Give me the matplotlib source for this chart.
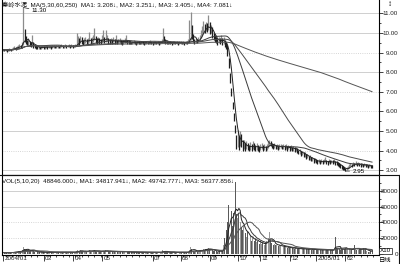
import numpy as np
import pandas as pd
import matplotlib
matplotlib.use('Agg')
import matplotlib.pyplot as plt
import matplotlib.transforms as mtransforms
from matplotlib.lines import Line2D

# daily quotes 2004/01 .. 2005/02
closes = [
    9.15, 9.12, 9.14, 9.10, 9.13, 9.16, 9.14, 9.18, 9.20, 9.25,
    9.22, 9.28, 9.30, 9.35, 9.32, 9.40, 10.05, 9.75, 9.60, 9.50,
    9.55, 9.45, 9.40, 9.60, 9.35, 9.30, 9.28, 9.25, 9.27, 9.24,
    9.26, 9.28, 9.25, 9.27, 9.30, 9.26, 9.28, 9.29, 9.27, 9.30,
    9.31, 9.28, 9.30, 9.32, 9.29, 9.31, 9.33, 9.30, 9.32, 9.34,
    9.31, 9.33, 9.35, 9.32, 9.34, 9.30, 9.33, 9.36, 9.45, 9.60,
    9.55, 9.70, 9.62, 9.50, 9.58, 9.65, 9.55, 9.60, 9.72, 9.58,
    9.62, 9.70, 9.80, 9.65, 9.58, 9.66, 9.60, 9.55, 9.70, 9.75,
    9.62, 9.68, 9.72, 9.60, 9.55, 9.62, 9.58, 9.65, 9.55, 9.60,
    9.52, 9.58, 9.62, 9.55, 9.50, 9.56, 9.60, 9.65, 9.55, 9.52,
    9.50, 9.48, 9.52, 9.55, 9.50, 9.47, 9.52, 9.50, 9.48, 9.53,
    9.50, 9.46, 9.50, 9.52, 9.48, 9.50, 9.53, 9.49, 9.47, 9.50,
    9.52, 9.48, 9.50, 9.47, 9.50, 9.55, 9.80, 9.62, 9.55, 9.50,
    9.48, 9.52, 9.50, 9.47, 9.50, 9.52, 9.48, 9.50, 9.46, 9.50,
    9.52, 9.48, 9.50, 9.47, 9.52, 9.50, 9.55, 9.70, 10.20, 9.90,
    9.65, 9.55, 9.62, 9.58, 9.65, 9.75, 9.95, 10.10, 10.30, 10.20,
    10.35, 10.25, 10.45, 10.15, 10.25, 9.95, 9.80, 9.70, 9.62, 9.55,
    9.65, 9.58, 9.70, 9.55, 9.60, 9.45, 9.35, 9.00, 8.40, 7.60,
    6.90, 6.20, 5.60, 5.00, 4.50, 4.60, 4.30, 4.80, 4.40, 4.20,
    4.35, 4.15, 4.30, 4.20, 4.10, 4.25, 4.15, 4.30, 4.20, 4.10,
    4.22, 4.15, 4.05, 4.18, 4.25, 4.12, 4.20, 4.08, 4.18, 4.30,
    4.40, 4.35, 4.28, 4.20, 4.25, 4.18, 4.22, 4.15, 4.20, 4.24,
    4.18, 4.22, 4.15, 4.20, 4.12, 4.18, 4.10, 4.15, 4.08, 4.12,
    4.05, 4.08, 4.00, 3.92, 3.95, 3.85, 3.88, 3.78, 3.80, 3.70,
    3.72, 3.62, 3.65, 3.55, 3.58, 3.48, 3.52, 3.45, 3.40, 3.45,
    3.42, 3.48, 3.40, 3.45, 3.50, 3.42, 3.38, 3.45, 3.40, 3.44,
    3.40, 3.45, 3.38, 3.35, 3.30, 3.25, 3.20, 3.15, 3.10, 3.05,
    3.00, 3.08, 3.15, 3.22, 3.28, 3.25, 3.32, 3.30, 3.35, 3.28,
    3.32, 3.30, 3.26, 3.30, 3.25, 3.28, 3.22, 3.25, 3.20, 3.22,
    3.18, 3.17,
]
highs = [
    9.20, 9.18, 9.19, 9.16, 9.18, 9.22, 9.20, 9.24, 9.27, 9.32,
    9.30, 9.34, 9.38, 9.45, 9.40, 9.55, 11.30, 10.20, 9.85, 9.65,
    9.70, 9.60, 9.52, 9.90, 9.55, 9.40, 9.36, 9.32, 9.34, 9.30,
    9.32, 9.34, 9.31, 9.33, 9.36, 9.32, 9.34, 9.35, 9.33, 9.37,
    9.38, 9.34, 9.36, 9.40, 9.35, 9.37, 9.42, 9.36, 9.38, 9.41,
    9.37, 9.40, 9.42, 9.38, 9.41, 9.36, 9.40, 9.45, 10.00, 9.85,
    9.72, 9.85, 9.78, 9.65, 9.72, 9.80, 9.70, 9.75, 10.06, 9.75,
    9.78, 9.90, 10.25, 9.85, 9.72, 9.80, 9.75, 9.68, 9.90, 10.15,
    9.80, 10.15, 9.88, 9.75, 9.68, 9.75, 9.70, 9.78, 9.68, 9.90,
    9.62, 9.68, 9.75, 9.65, 9.60, 9.66, 9.72, 9.90, 9.65, 9.60,
    9.57, 9.55, 9.60, 9.62, 9.57, 9.54, 9.60, 9.57, 9.55, 9.60,
    9.57, 9.53, 9.57, 9.60, 9.55, 9.57, 9.62, 9.56, 9.54, 9.57,
    9.60, 9.55, 9.57, 9.54, 9.58, 9.68, 10.25, 9.85, 9.68, 9.60,
    9.55, 9.60, 9.57, 9.54, 9.57, 9.60, 9.55, 9.57, 9.53, 9.57,
    9.60, 9.55, 9.57, 9.54, 9.60, 9.58, 9.70, 10.65, 11.07, 10.40,
    9.95, 9.70, 9.75, 9.70, 9.80, 9.90, 10.15, 10.35, 10.60, 10.45,
    10.55, 10.50, 10.90, 10.55, 10.40, 10.30, 10.00, 9.90, 9.78, 9.70,
    9.80, 9.72, 9.90, 9.75, 9.78, 9.65, 9.55, 9.40, 8.70, 7.95,
    7.20, 6.50, 5.90, 5.30, 4.80, 5.05, 4.75, 5.00, 4.85, 4.55,
    4.55, 4.40, 4.50, 4.40, 4.30, 4.45, 4.35, 4.50, 4.38, 4.28,
    4.38, 4.30, 4.22, 4.32, 4.40, 4.28, 4.35, 4.25, 4.35, 4.48,
    4.55, 4.48, 4.40, 4.32, 4.36, 4.30, 4.33, 4.26, 4.31, 4.35,
    4.30, 4.33, 4.26, 4.31, 4.24, 4.30, 4.22, 4.27, 4.20, 4.24,
    4.18, 4.20, 4.12, 4.05, 4.06, 3.98, 3.98, 3.90, 3.92, 3.82,
    3.84, 3.74, 3.76, 3.66, 3.68, 3.60, 3.62, 3.56, 3.52, 3.55,
    3.52, 3.58, 3.50, 3.55, 3.68, 3.52, 3.48, 3.55, 3.50, 3.54,
    3.50, 3.55, 3.48, 3.44, 3.40, 3.34, 3.30, 3.25, 3.20, 3.15,
    3.10, 3.15, 3.22, 3.30, 3.36, 3.33, 3.40, 3.38, 3.44, 3.36,
    3.40, 3.38, 3.34, 3.38, 3.33, 3.36, 3.30, 3.33, 3.28, 3.30,
    3.26, 3.25,
]
lows = [
    9.08, 9.06, 9.08, 9.04, 9.07, 9.10, 9.08, 9.12, 9.14, 9.18,
    9.15, 9.20, 9.22, 9.26, 9.25, 9.30, 9.38, 9.55, 9.45, 9.38,
    9.40, 9.35, 9.30, 9.35, 9.25, 9.22, 9.20, 9.18, 9.20, 9.17,
    9.19, 9.21, 9.18, 9.20, 9.23, 9.19, 9.21, 9.22, 9.20, 9.23,
    9.24, 9.21, 9.23, 9.25, 9.22, 9.24, 9.26, 9.23, 9.25, 9.27,
    9.24, 9.26, 9.28, 9.25, 9.27, 9.23, 9.26, 9.28, 9.32, 9.40,
    9.40, 9.50, 9.45, 9.38, 9.44, 9.50, 9.42, 9.45, 9.55, 9.45,
    9.48, 9.55, 9.62, 9.50, 9.45, 9.52, 9.46, 9.42, 9.52, 9.58,
    9.48, 9.52, 9.58, 9.46, 9.42, 9.50, 9.45, 9.52, 9.42, 9.48,
    9.42, 9.48, 9.50, 9.45, 9.40, 9.46, 9.50, 9.52, 9.45, 9.43,
    9.43, 9.41, 9.45, 9.48, 9.43, 9.40, 9.45, 9.43, 9.41, 9.46,
    9.43, 9.39, 9.43, 9.45, 9.41, 9.43, 9.46, 9.42, 9.40, 9.43,
    9.45, 9.41, 9.43, 9.40, 9.43, 9.47, 9.55, 9.52, 9.46, 9.42,
    9.41, 9.45, 9.43, 9.40, 9.43, 9.45, 9.41, 9.43, 9.39, 9.43,
    9.45, 9.41, 9.43, 9.40, 9.45, 9.43, 9.47, 9.50, 9.65, 9.70,
    9.55, 9.45, 9.50, 9.48, 9.55, 9.60, 9.72, 9.88, 10.00, 10.00,
    10.10, 10.05, 10.15, 9.95, 10.00, 9.75, 9.65, 9.55, 9.48, 9.40,
    9.50, 9.45, 9.55, 9.40, 9.45, 9.30, 9.20, 8.80, 8.20, 7.45,
    6.80, 6.10, 5.50, 4.90, 4.10, 4.20, 4.05, 4.25, 4.20, 4.00,
    4.10, 4.00, 4.08, 4.02, 3.95, 4.05, 3.98, 4.10, 4.02, 3.95,
    4.05, 4.00, 3.92, 4.02, 4.10, 3.98, 4.05, 3.95, 4.05, 4.15,
    4.22, 4.22, 4.15, 4.08, 4.12, 4.06, 4.10, 4.04, 4.08, 4.12,
    4.06, 4.10, 4.04, 4.08, 4.00, 4.06, 3.98, 4.03, 3.96, 4.00,
    3.94, 3.96, 3.88, 3.80, 3.84, 3.74, 3.76, 3.66, 3.68, 3.58,
    3.60, 3.50, 3.54, 3.44, 3.47, 3.37, 3.41, 3.34, 3.29, 3.35,
    3.32, 3.38, 3.30, 3.35, 3.40, 3.32, 3.28, 3.35, 3.30, 3.34,
    3.30, 3.35, 3.28, 3.26, 3.20, 3.16, 3.10, 3.06, 3.01, 2.98,
    2.95, 3.00, 3.06, 3.13, 3.19, 3.17, 3.22, 3.21, 3.26, 3.20,
    3.24, 3.22, 3.18, 3.22, 3.17, 3.20, 3.14, 3.17, 3.12, 3.14,
    3.10, 3.09,
]
# volume in chart units (x10)
volumes = [
    1800, 1500, 1600, 1300, 1700, 2000, 1600, 1900, 2200, 2800,
    2400, 3000, 3200, 3800, 3000, 4500, 8800, 6500, 5200, 4300,
    4800, 3900, 3500, 5600, 3600, 2800, 2500, 2300, 2600, 2100,
    2200, 2400, 2000, 2300, 2500, 2100, 2200, 2400, 2000, 2300,
    2500, 2100, 2200, 2600, 2000, 2300, 2700, 2100, 2200, 2500,
    2100, 2300, 2600, 2000, 2200, 1900, 2300, 2600, 3500, 4800,
    3800, 4500, 3600, 3000, 3300, 3900, 3100, 3400, 5200, 3500,
    3300, 4000, 5000, 3600, 3000, 3400, 3100, 2800, 3600, 4200,
    3300, 4600, 3800, 3200, 2900, 3300, 3000, 3500, 2800, 3100,
    2700, 3000, 3300, 2800, 2500, 2800, 3000, 3600, 2700, 2500,
    2300, 2100, 2400, 2600, 2200, 2000, 2300, 2200, 2000, 2400,
    2200, 1900, 2100, 2300, 2000, 2100, 2400, 2000, 1900, 2200,
    2300, 2000, 2100, 1900, 2200, 2600, 5200, 3600, 2800, 2300,
    2100, 2300, 2200, 1900, 2100, 2300, 2000, 2200, 1900, 2100,
    2300, 2000, 2100, 1900, 2300, 2200, 2800, 5500, 8800, 6000,
    4200, 3000, 3300, 2900, 3500, 4000, 4800, 5200, 6200, 5600,
    6400, 5800, 7600, 6200, 5400, 4800, 4200, 3700, 3400, 3100,
    3800, 3300, 4500, 3600, 11000, 20000, 30000, 40000, 62000, 38000,
    55000, 35000, 52000, 91500, 50000, 45000, 50000, 40000, 34000, 30000,
    36000, 26000, 22000, 28000, 19000, 23000, 17000, 21000, 16000, 19000,
    15000, 17000, 13000, 15000, 12500, 14000, 12000, 13500, 16000, 20000,
    28000, 18000, 14000, 12000, 13000, 11000, 12000, 10000, 11000, 9500,
    10000, 9000, 9500, 8500, 8000, 8800, 7500, 8000, 7200, 7800,
    6800, 7500, 6500, 7000, 6200, 6800, 6000, 7200, 6500, 6000,
    6300, 5800, 6500, 5500, 6000, 5200, 5800, 5000, 5500, 5200,
    5000, 5600, 4800, 5200, 6500, 5000, 4800, 5400, 4600, 5000,
    4800, 5200, 21000, 8000, 6500, 6000, 5500, 5800, 6200, 6800,
    7500, 6500, 6000, 5800, 5500, 5200, 5800, 12000, 6000, 5500,
    5400, 5813, 6800, 6200, 7000, 6000, 6334, 3200, 3000, 3100,
    3224, 4885,
]

month_starts = [0, 32, 55, 78, 118, 140, 163, 185, 203, 226, 247, 270]
month_labels = ['2004/01', '03', '04', '05', '07', '08', '09', '10', '11', '12', '2005/01', '02']

price_ticks = [3, 4, 5, 6, 7, 8, 9, 10, 11]
price_grid = ['-', ':', '-', ':', ':', '-', ':', '-', '-']
vol_ticks = [0, 20000, 40000, 60000, 80000]
vol_grid = [None, ':', ':', '-', '-']

ma_windows = [5, 30, 60, 250]
vol_windows = [5, 10, 20]
price_title = '秦岭水泥  MA(5,30,60,250)  MA1: 3.208↓, MA2: 3.251↓, MA3: 3.405↓, MA4: 7.081↓'
vol_title = 'VOL(5,10,20)  48846.000↓, MA1: 34817.941↓, MA2: 49742.777↓, MA3: 56377.856↓'

plt.rcParams['font.family'] = ['Liberation Sans', 'Noto Sans CJK SC', 'DejaVu Sans']
FS = 4.5

df = pd.DataFrame({'close': closes, 'high': highs, 'low': lows, 'vol': volumes})
x = np.arange(len(df))
up = (df.close.diff().fillna(0) >= 0).values

fig = plt.figure(figsize=(4, 2.64), dpi=100)
ax1 = fig.add_axes([0.005, 1 - 175 / 264, 377 / 400, 175 / 264])
ax2 = fig.add_axes([0.005, 1 - 255 / 264, 377 / 400, 80 / 264], sharex=ax1)

# price panel
for v, ls in zip(price_ticks, price_grid):
    ax1.axhline(v, color='#c8c8c8', lw=0.6, ls=ls, zorder=0)
ax1.vlines(x[up], df.low[up], df.high[up], color='#8c8c8c', lw=0.9)
ax1.vlines(x[~up], df.low[~up], df.high[~up], color='#1e1e1e', lw=0.9)
for w, c in zip(ma_windows, ['#222222', '#3a3a3a', '#4a4a4a', '#555555']):
    ax1.plot(x, df.close.rolling(w, min_periods=1).mean(), color=c, lw=0.7)

hi = df.high.idxmax()
lo = df.low.idxmin()
ax1.annotate('%.2f' % df.high[hi], xy=(hi, df.high[hi]), xytext=(6, -2.5),
             textcoords='offset points', fontsize=FS, va='center',
             arrowprops=dict(arrowstyle='-', lw=0.5, color='#222', shrinkA=0, shrinkB=0))
ax1.annotate('%.2f' % df.low[lo], xy=(lo, df.low[lo]), xytext=(5, 0),
             textcoords='offset points', fontsize=FS, va='center',
             arrowprops=dict(arrowstyle='-', lw=0.5, color='#222', shrinkA=0, shrinkB=0))

ax1.set_xlim(-0.8, 296.5)
ax1.set_ylim(2.75, 11.68)
ax1.yaxis.tick_right()
ax1.set_yticks(price_ticks)
ax1.set_yticklabels(['%.2f' % v for v in price_ticks])
ax1.set_yticks(np.arange(3.5, 11.5, 1.0), minor=True)
ax1.tick_params(axis='y', which='major', length=3, width=0.6, pad=1, labelsize=FS, colors='#222')
ax1.tick_params(axis='y', which='minor', length=1.5, width=0.5)
ax1.tick_params(axis='x', which='both', bottom=False, labelbottom=False)
ax1.spines['top'].set_visible(False)
for s in ['left', 'right', 'bottom']:
    ax1.spines[s].set_linewidth(0.8)

# volume panel
for v, ls in zip(vol_ticks, vol_grid):
    if ls:
        ax2.axhline(v, color='#c8c8c8', lw=0.6, ls=ls, zorder=0)
ax2.bar(x[up], df.vol[up], width=0.75, color='#9a9a9a', linewidth=0)
ax2.bar(x[~up], df.vol[~up], width=0.75, color='#5a5a5a', linewidth=0)
for w, c in zip(vol_windows, ['#222222', '#3a3a3a', '#555555']):
    ax2.plot(x, df.vol.rolling(w, min_periods=1).mean(), color=c, lw=0.7)
ax2.set_ylim(-1266, 100000)
ax2.yaxis.tick_right()
ax2.set_yticks(vol_ticks)
ax2.set_yticklabels([str(v) for v in vol_ticks])
ax2.set_yticks(np.arange(10000, 100000, 20000), minor=True)
ax2.tick_params(axis='y', which='major', length=3, width=0.6, pad=1, labelsize=FS, colors='#222')
ax2.tick_params(axis='y', which='minor', length=1.5, width=0.5)
for s in ['left', 'right', 'bottom', 'top']:
    ax2.spines[s].set_linewidth(0.8)

ax2.set_xticks(month_starts)
ax2.set_xticklabels(month_labels)
ax2.set_xticks(np.arange(2, 296, 5), minor=True)
ax2.tick_params(axis='x', which='major', length=4.5, width=0.6, pad=0, labelsize=FS, colors='#222')
ax2.tick_params(axis='x', which='minor', length=1.5, width=0.5)

# right-align the y labels near the figure edge, put month labels beside their tick
yshift = mtransforms.ScaledTranslation(13.5 / 100, 0, fig.dpi_scale_trans)
for lbl in ax1.get_yticklabels() + ax2.get_yticklabels():
    lbl.set_horizontalalignment('right')
    lbl.set_transform(lbl.get_transform() + yshift)
xshift = mtransforms.ScaledTranslation(1.5 / 100, 5.5 / 100, fig.dpi_scale_trans)
for lbl in ax2.get_xticklabels():
    lbl.set_horizontalalignment('left')
    lbl.set_transform(lbl.get_transform() + xshift)

# headers and frame bits
fig.text(0.005, 1 - 5 / 264, price_title, fontsize=FS, va='center', ha='left', color='#111')
fig.text(0.005, 1 - 181 / 264, vol_title, fontsize=FS, va='center', ha='left', color='#111')
fig.text(0.9625, 1 - 251 / 264, 'X10', fontsize=FS, va='center', ha='center',
         bbox=dict(boxstyle='square,pad=0.15', fc='white', ec='#111', lw=0.5))
fig.text(0.9625, 1 - 260 / 264, '日线', fontsize=FS, va='center', ha='center')
fig.text(0.975, 0.998, '↕', fontsize=6, va='top', ha='center', weight='bold')
fig.add_artist(Line2D([0, 1], [1 - 175 / 264, 1 - 175 / 264], color='#111', lw=0.8))
fig.add_artist(Line2D([0.9975, 0.9975], [0, 1 - 175 / 264], color='#111', lw=0.8))

fig.savefig('out.png', dpi=100, facecolor='white')
